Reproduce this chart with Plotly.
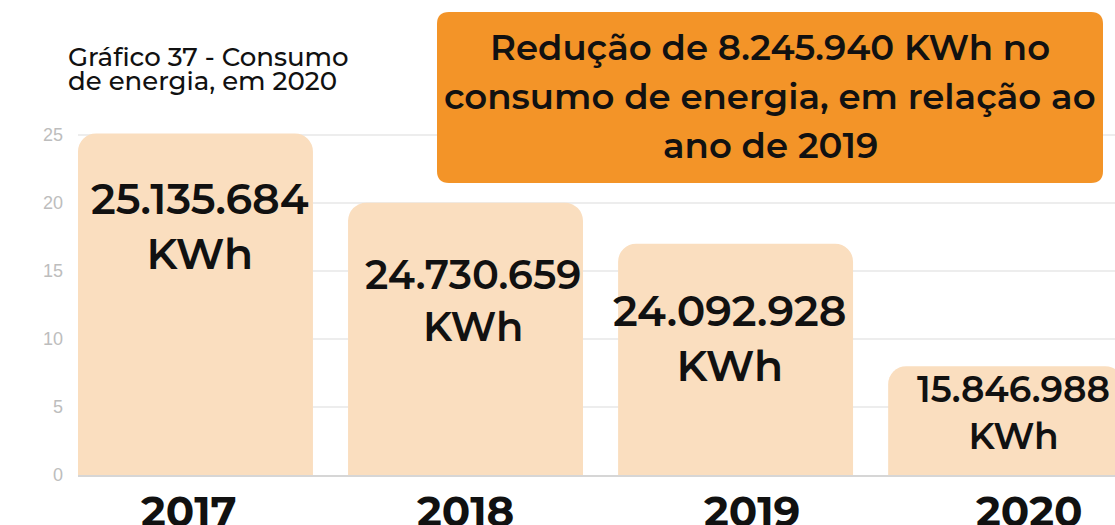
import plotly.graph_objects as go

# Data
years = ["2017", "2018", "2019", "2020"]
bar_heights = [25.1, 20.0, 17.0, 8.0]
consumo_kwh = ["25.135.684", "24.730.659", "24.092.928", "15.846.988"]
y_ticks = [0, 5, 10, 15, 20, 25]

title_lines = ["Gráfico 37 - Consumo", "de energia, em 2020"]
callout_lines = [
    "Redução de 8.245.940 KWh no",
    "consumo de energia, em relação ao",
    "ano de 2019",
]

# Styling
W, H = 1115, 525
M_L, M_R, M_T, M_B = 78, 0, 128, 50
BAR_COLOR = "#FADEBF"
BOX_COLOR = "#F39428"
FONT = "Montserrat, DejaVu Sans, sans-serif"

label_sizes = [42.5, 40, 42.5, 36]
label_drop = [38, 45, 39, -1]
label_dx = [5, 7, -6, 8]
year_dx = [-6, 0, 16, 23]

plot_w = W - M_L - M_R
plot_h = H - M_T - M_B


def px_to_paper(x, y):
    return (x - M_L) / plot_w, (H - M_B - y) / plot_h


def rounded_rect(x0, y0, x1, y1, r):
    # rounded rectangle path in paper coords, corners given in pixels
    ax0, ay0 = px_to_paper(x0, y0)
    ax1, ay1 = px_to_paper(x1, y1)
    rx = r / plot_w
    ry = r / plot_h
    top, bot = ay0, ay1
    return (
        f"M {ax0 + rx},{top} L {ax1 - rx},{top} Q {ax1},{top} {ax1},{top - ry} "
        f"L {ax1},{bot + ry} Q {ax1},{bot} {ax1 - rx},{bot} "
        f"L {ax0 + rx},{bot} Q {ax0},{bot} {ax0},{bot + ry} "
        f"L {ax0},{top - ry} Q {ax0},{top} {ax0 + rx},{top} Z"
    )


fig = go.Figure()
fig.add_trace(
    go.Bar(
        x=years,
        y=bar_heights,
        marker=dict(color=BAR_COLOR, cornerradius=18, line=dict(width=0)),
        hoverinfo="skip",
    )
)

# value labels inside the bars and year labels under them
for i, (h, txt, fs, dy, dx) in enumerate(zip(bar_heights, consumo_kwh, label_sizes, label_drop, label_dx)):
    fig.add_annotation(
        x=i, y=h, xref="x", yref="y",
        text=f"{txt}<br>KWh",
        showarrow=False, yanchor="top", xanchor="center",
        yshift=-dy, xshift=dx,
        font=dict(family=FONT, size=fs, color="#111111", weight=600),
    )
for i, (yr, dx) in enumerate(zip(years, year_dx)):
    fig.add_annotation(
        x=i, y=0, xref="x", yref="paper",
        text=yr, showarrow=False, yanchor="top", xanchor="center",
        yshift=-8, xshift=dx,
        font=dict(family=FONT, size=42, color="#111111", weight="bold"),
    )

# chart title, two tightly spaced lines
for i, line in enumerate(title_lines):
    tx, ty = px_to_paper(66, 57 + i * 24)
    fig.add_annotation(
        x=tx, y=ty, xref="paper", yref="paper",
        text=line, showarrow=False, xanchor="left", yanchor="middle", align="left",
        font=dict(family=FONT, size=26, color="#111111", weight=500),
    )

# orange callout box
fig.add_shape(
    type="path", xref="paper", yref="paper",
    path=rounded_rect(437, 12, 1103, 183, 12),
    fillcolor=BOX_COLOR, line=dict(width=0), layer="above",
)
for i, line in enumerate(callout_lines):
    cx, cy = px_to_paper(770, 48 + i * 48.5)
    fig.add_annotation(
        x=cx, y=cy, xref="paper", yref="paper",
        text=line, showarrow=False, xanchor="center", yanchor="middle",
        font=dict(family=FONT, size=35.5, color="#111111", weight=600),
    )

fig.update_layout(
    width=W, height=H,
    margin=dict(l=M_L, r=M_R, t=M_T, b=M_B, pad=0, autoexpand=False),
    paper_bgcolor="white", plot_bgcolor="white",
    bargap=0.13,
    showlegend=False,
    xaxis=dict(
        type="category",
        range=[-0.435, 3.405],
        showgrid=False,
        showline=True, linecolor="#D6D6D6", linewidth=2,
        ticks="", showticklabels=False, automargin=False,
    ),
    yaxis=dict(
        range=[0, 25.5],
        tickvals=y_ticks,
        showgrid=True, gridcolor="#EDEDED", gridwidth=2,
        zeroline=False, automargin=False,
        ticks="", ticklabelstandoff=14,
        tickfont=dict(family="Liberation Sans, Arial, sans-serif", size=18, color="#BDBDBD"),
    ),
)

fig.write_html("out.html")
